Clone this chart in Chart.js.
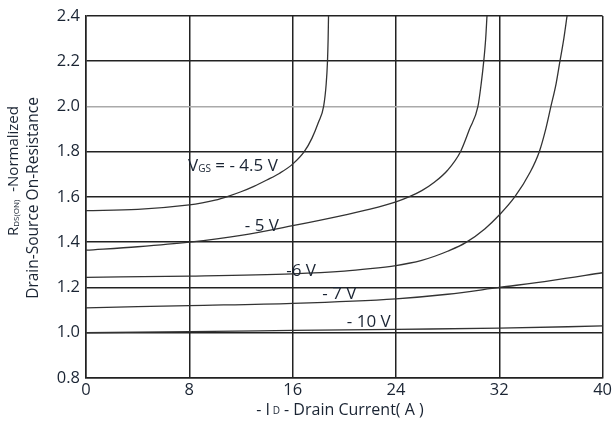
<!DOCTYPE html>
<html>
<head>
<meta charset="utf-8">
<script src="https://cdn.jsdelivr.net/npm/chart.js@4"></script>
<style>
  html, body { margin: 0; padding: 0; background: #fff; }
  #wrap { width: 614px; height: 425px; }
</style>
</head>
<body>
<div id="wrap"><canvas id="rdsChart" width="614" height="425"></canvas></div>
<script>
// datos: corriente de drenaje (A) y Rds(on) normalizada
const xTicks = [0, 8, 16, 24, 32, 40];
const yTicks = [0.8, 1.0, 1.2, 1.4, 1.6, 1.8, 2.0, 2.2, 2.4];

const id45 = [0, 4, 8, 9, 10, 11, 12, 13, 14, 15, 16, 16.9, 17.5, 18, 18.4, 18.6, 18.7, 18.75, 18.78];
const rds45 = [1.54, 1.545, 1.565, 1.574, 1.586, 1.603, 1.623, 1.647, 1.675, 1.705, 1.745, 1.80, 1.86, 1.93, 2.0, 2.1, 2.2, 2.3, 2.4];

const id5 = [0, 4, 8, 12, 16, 20, 22, 24, 25, 26, 27, 28, 29, 29.7, 30.35, 30.6, 30.8, 30.95, 31.05];
const rds5 = [1.365, 1.38, 1.40, 1.43, 1.473, 1.52, 1.546, 1.578, 1.6, 1.628, 1.666, 1.718, 1.80, 1.9, 2.0, 2.1, 2.2, 2.3, 2.4];

const id6 = [0, 8, 16, 20, 22, 24, 25, 26, 27, 28, 29.4, 30.9, 32, 33.2, 34.4, 35.1, 35.6, 36, 36.4, 36.7, 37, 37.25];
const rds6 = [1.245, 1.25, 1.26, 1.272, 1.283, 1.297, 1.307, 1.32, 1.338, 1.36, 1.398, 1.46, 1.52, 1.6, 1.71, 1.8, 1.9, 2.0, 2.1, 2.2, 2.3, 2.4];

const id7 = [0, 8, 16, 24, 28, 32, 36, 40];
const rds7 = [1.11, 1.12, 1.13, 1.15, 1.17, 1.20, 1.23, 1.265];

const id10 = [0, 8, 16, 24, 32, 40];
const rds10 = [1.0, 1.005, 1.01, 1.015, 1.02, 1.03];

const txtColor = '#1a2433';
const fontFam = '"Open Sans", "DejaVu Sans", sans-serif';

function serie(xs, ys) {
    return {
        data: xs.map((x, i) => ({ x: x, y: ys[i] })),
        borderColor: '#333', // color de la curva
        borderWidth: 1.3,
        pointRadius: 0,
        fill: false,
        cubicInterpolationMode: 'monotone'
    };
}

// etiquetas de cada curva (posicion en unidades de datos)
const curveLabels = [
    { x: 7.9, y: 1.735, parts: [['V', 17, 0], ['GS', 10, 3], [' = - 4.5 V', 17, 0]] },
    { x: 12.3, y: 1.472, parts: [['- 5 V', 17, 0]] },
    { x: 15.5, y: 1.273, parts: [['-6 V', 17, 0]] },
    { x: 18.3, y: 1.171, parts: [['- 7 V', 17, 0]] },
    { x: 20.2, y: 1.048, parts: [['- 10 V', 17, 0]] }
];

function drawParts(ctx, parts, x, y, align) {
    let total = 0;
    parts.forEach(p => { ctx.font = p[1] + 'px ' + fontFam; total += ctx.measureText(p[0]).width; });
    let cx = align === 'center' ? x - total / 2 : x;
    parts.forEach(p => {
        ctx.font = p[1] + 'px ' + fontFam;
        ctx.fillText(p[0], cx, y + p[2]);
        cx += ctx.measureText(p[0]).width;
    });
}

const textPlugin = {
    id: 'textos',
    afterDraw(chart) {
        const ctx = chart.ctx;
        const xs = chart.scales.x, ys = chart.scales.y;
        ctx.save();
        ctx.fillStyle = txtColor;
        ctx.textBaseline = 'middle';
        ctx.textAlign = 'left';
        curveLabels.forEach(l => {
            drawParts(ctx, l.parts, xs.getPixelForValue(l.x), ys.getPixelForValue(l.y), 'left');
        });

        // titulo eje x
        drawParts(ctx, [['- I', 16, 0], [' D', 10, 1], [' - Drain Current( A )', 16, 0]], 340, 410, 'center');

        // titulo eje y (rotado)
        ctx.translate(14, 171);
        ctx.rotate(-Math.PI / 2);
        drawParts(ctx, [['R', 15, 0], ['DS(ON)', 8, 3], ['  -Normalized', 15, 0]], 0, 0, 'center');
        ctx.rotate(Math.PI / 2);
        ctx.translate(-14, -171);
        ctx.translate(34, 198);
        ctx.rotate(-Math.PI / 2);
        drawParts(ctx, [['Drain-Source On-Resistance', 15.5, 0]], 0, 0, 'center');
        ctx.restore();
    }
};

const ctx = document.getElementById('rdsChart').getContext('2d');
const chart = new Chart(ctx, {
    type: 'line',
    data: {
        datasets: [serie(id45, rds45), serie(id5, rds5), serie(id6, rds6), serie(id7, rds7), serie(id10, rds10)]
    },
    options: {
        responsive: false,
        animation: false,
        layout: { padding: { top: 15, right: 9, left: 0, bottom: 0 } },
        plugins: { legend: { display: false }, tooltip: { enabled: false } },
        scales: {
            x: {
                type: 'linear',
                min: 0,
                max: 40,
                afterBuildTicks: s => { s.ticks = xTicks.map(v => ({ value: v })); },
                afterFit: s => { s.height = 47; },
                grid: { color: '#222', lineWidth: 1.5, drawTicks: false },
                border: { color: '#222', width: 1.5 },
                ticks: { color: txtColor, padding: 2, maxRotation: 0, font: { size: 16.5, family: fontFam } }
            },
            y: {
                min: 0.8,
                max: 2.4,
                afterBuildTicks: s => { s.ticks = yTicks.map(v => ({ value: v })); },
                afterFit: s => { s.width = 86; },
                grid: {
                    color: c => (c.tick && Math.abs(c.tick.value - 2.0) < 1e-6) ? '#aaa' : '#222',
                    lineWidth: 1.5,
                    drawTicks: false
                },
                border: { color: '#222', width: 1.5 },
                ticks: {
                    color: txtColor,
                    padding: 6,
                    font: { size: 16.5, family: fontFam },
                    callback: v => v.toFixed(1)
                }
            }
        }
    },
    plugins: [textPlugin]
});
</script>
</body>
</html>
